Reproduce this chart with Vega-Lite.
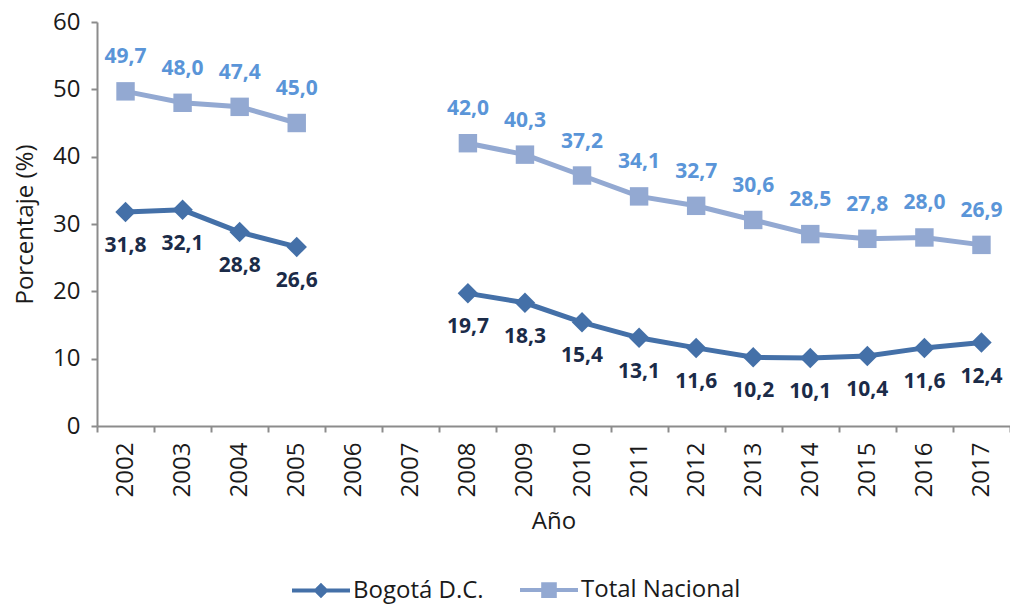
{
  "$schema": "https://vega.github.io/schema/vega-lite/v6.json",
  "width": 913,
  "height": 404,
  "autosize": {"type": "none"},
  "padding": {"left": 97, "top": 22, "right": 0, "bottom": 180},
  "background": "white",
  "config": {
    "font": "Open Sans",
    "view": {"stroke": null},
    "locale": {"number": {"decimal": ",", "thousands": ".", "grouping": [3], "currency": ["$", ""]}}
  },
  "data": {
    "values": [
      {"anio": "2002", "serie": "Bogotá D.C.", "valor": 31.8},
      {"anio": "2003", "serie": "Bogotá D.C.", "valor": 32.1},
      {"anio": "2004", "serie": "Bogotá D.C.", "valor": 28.8},
      {"anio": "2005", "serie": "Bogotá D.C.", "valor": 26.6},
      {"anio": "2006", "serie": "Bogotá D.C.", "valor": null},
      {"anio": "2007", "serie": "Bogotá D.C.", "valor": null},
      {"anio": "2008", "serie": "Bogotá D.C.", "valor": 19.7},
      {"anio": "2009", "serie": "Bogotá D.C.", "valor": 18.3},
      {"anio": "2010", "serie": "Bogotá D.C.", "valor": 15.4},
      {"anio": "2011", "serie": "Bogotá D.C.", "valor": 13.1},
      {"anio": "2012", "serie": "Bogotá D.C.", "valor": 11.6},
      {"anio": "2013", "serie": "Bogotá D.C.", "valor": 10.2},
      {"anio": "2014", "serie": "Bogotá D.C.", "valor": 10.1},
      {"anio": "2015", "serie": "Bogotá D.C.", "valor": 10.4},
      {"anio": "2016", "serie": "Bogotá D.C.", "valor": 11.6},
      {"anio": "2017", "serie": "Bogotá D.C.", "valor": 12.4},
      {"anio": "2002", "serie": "Total Nacional", "valor": 49.7},
      {"anio": "2003", "serie": "Total Nacional", "valor": 48.0},
      {"anio": "2004", "serie": "Total Nacional", "valor": 47.4},
      {"anio": "2005", "serie": "Total Nacional", "valor": 45.0},
      {"anio": "2006", "serie": "Total Nacional", "valor": null},
      {"anio": "2007", "serie": "Total Nacional", "valor": null},
      {"anio": "2008", "serie": "Total Nacional", "valor": 42.0},
      {"anio": "2009", "serie": "Total Nacional", "valor": 40.3},
      {"anio": "2010", "serie": "Total Nacional", "valor": 37.2},
      {"anio": "2011", "serie": "Total Nacional", "valor": 34.1},
      {"anio": "2012", "serie": "Total Nacional", "valor": 32.7},
      {"anio": "2013", "serie": "Total Nacional", "valor": 30.6},
      {"anio": "2014", "serie": "Total Nacional", "valor": 28.5},
      {"anio": "2015", "serie": "Total Nacional", "valor": 27.8},
      {"anio": "2016", "serie": "Total Nacional", "valor": 28.0},
      {"anio": "2017", "serie": "Total Nacional", "valor": 26.9}
    ]
  },
  "encoding": {
    "x": {
      "field": "anio",
      "type": "ordinal",
      "scale": {"type": "band", "paddingInner": 0, "paddingOuter": 0,
        "domain": ["2002","2003","2004","2005","2006","2007","2008","2009","2010","2011","2012","2013","2014","2015","2016","2017"]},
      "axis": {
        "title": "Año",
        "titleFontSize": 24,
        "titleFontWeight": "normal",
        "titleColor": "#1a1a1a",
        "titlePadding": 13,
        "labelAngle": -90,
        "labelFontSize": 24,
        "labelColor": "#1a1a1a",
        "labelPadding": 10,
        "tickBand": "extent",
        "tickSize": 6,
        "tickColor": "#8c8c8c",
        "tickWidth": 2,
        "domainColor": "#8c8c8c",
        "domainWidth": 2,
        "grid": false
      }
    },
    "y": {
      "field": "valor",
      "type": "quantitative",
      "scale": {"domain": [0, 60], "nice": false, "zero": true},
      "axis": {
        "title": "Porcentaje (%)",
        "titleFontSize": 24,
        "titleFontWeight": "normal",
        "titleColor": "#1a1a1a",
        "titlePadding": 15,
        "values": [0, 10, 20, 30, 40, 50, 60],
        "format": "d",
        "labelFontSize": 24,
        "labelColor": "#1a1a1a",
        "labelPadding": 11,
        "tickSize": 6,
        "tickColor": "#8c8c8c",
        "tickWidth": 2,
        "domainColor": "#8c8c8c",
        "domainWidth": 2,
        "grid": false
      }
    },
    "color": {
      "field": "serie",
      "type": "nominal",
      "scale": {"domain": ["Bogotá D.C.", "Total Nacional"], "range": ["#4470A8", "#93A9D2"]},
      "legend": {
        "title": null,
        "orient": "none",
        "legendX": 193,
        "legendY": 537,
        "direction": "horizontal",
        "labelFontSize": 24,
        "labelColor": "#1a1a1a",
        "labelOffset": 1,
        "columnPadding": 28,
        "symbolSize": 3364,
        "symbolStrokeWidth": 4,
        "encode": {
          "symbols": {
            "update": {
              "shape": {"signal": "datum.value === 'Bogotá D.C.' ? 'M-1,0H1M0,-0.17L0.17,0L0,0.17L-0.17,0Z' : 'M-1,0H1M-0.2,-0.2H0.2V0.2H-0.2Z'"},
              "fill": {"scale": "color", "field": "value"},
              "stroke": {"scale": "color", "field": "value"},
              "strokeWidth": {"value": 4},
              "size": {"value": 3364},
              "opacity": {"value": 1}
            }
          }
        }
      }
    }
  },
  "layer": [
    {
      "mark": {"type": "line", "strokeWidth": 5, "invalid": "break-paths-show-domains"}
    },
    {
      "transform": [{"filter": "datum.serie === 'Bogotá D.C.' && datum.valor != null"}],
      "mark": {"type": "point", "filled": true, "opacity": 1, "shape": "diamond", "size": 420}
    },
    {
      "transform": [{"filter": "datum.serie === 'Total Nacional' && datum.valor != null"}],
      "mark": {"type": "point", "filled": true, "opacity": 1, "shape": "square", "size": 340}
    },
    {
      "transform": [{"filter": "datum.serie === 'Bogotá D.C.' && datum.valor != null"}],
      "mark": {"type": "text", "fontSize": 21, "fontWeight": "bold", "dy": 34},
      "encoding": {"text": {"field": "valor", "type": "quantitative", "format": ".1f"}, "color": {"value": "#1B2B48"}}
    },
    {
      "transform": [{"filter": "datum.serie === 'Total Nacional' && datum.valor != null"}],
      "mark": {"type": "text", "fontSize": 21, "fontWeight": "bold", "dy": -34},
      "encoding": {"text": {"field": "valor", "type": "quantitative", "format": ".1f"}, "color": {"value": "#5A95D8"}}
    }
  ]
}
